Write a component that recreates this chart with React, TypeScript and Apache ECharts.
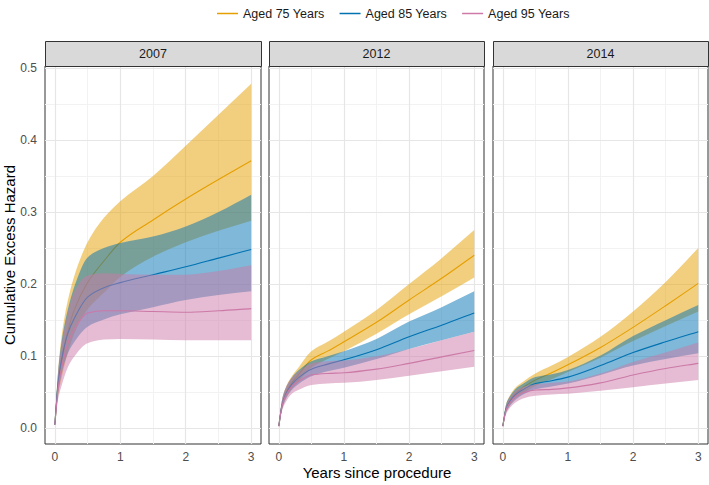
import React, { useEffect, useRef } from "react";
import * as echarts from "echarts";

// ---------- data ----------
const years = [0, 0.05, 0.1, 0.2, 0.3, 0.5, 0.75, 1, 1.5, 2, 2.5, 3];

const ageLabels = ["Aged 75 Years", "Aged 85 Years", "Aged 95 Years"];
const ageColors = ["#E69F00", "#0072B2", "#CC79A7"];
const panelTitles = ["2007", "2012", "2014"];

// 2007
const mean75_2007 = [0.005, 0.06, 0.09, 0.135, 0.165, 0.202, 0.232, 0.258, 0.289, 0.318, 0.345, 0.371];
const lower75_2007 = [0.004, 0.045, 0.068, 0.105, 0.132, 0.165, 0.188, 0.21, 0.238, 0.258, 0.274, 0.288];
const upper75_2007 = [0.006, 0.08, 0.125, 0.178, 0.212, 0.258, 0.292, 0.315, 0.35, 0.392, 0.435, 0.478];
const mean85_2007 = [0.005, 0.062, 0.094, 0.132, 0.153, 0.182, 0.195, 0.202, 0.213, 0.224, 0.236, 0.248];
const lower85_2007 = [0.004, 0.048, 0.074, 0.104, 0.12, 0.141, 0.151, 0.158, 0.168, 0.178, 0.185, 0.19];
const upper85_2007 = [0.006, 0.078, 0.118, 0.165, 0.197, 0.237, 0.25, 0.257, 0.266, 0.28, 0.3, 0.324];
const mean95_2007 = [0.005, 0.055, 0.082, 0.118, 0.138, 0.16, 0.163, 0.163, 0.162, 0.161, 0.163, 0.166];
const lower95_2007 = [0.004, 0.04, 0.058, 0.085, 0.1, 0.118, 0.123, 0.124, 0.123, 0.122, 0.122, 0.122];
const upper95_2007 = [0.006, 0.075, 0.113, 0.16, 0.19, 0.212, 0.215, 0.214, 0.213, 0.213, 0.218, 0.226];

// 2012
const mean75_2012 = [0.003, 0.032, 0.047, 0.063, 0.074, 0.095, 0.107, 0.12, 0.147, 0.178, 0.208, 0.24];
const lower75_2012 = [0.002, 0.026, 0.04, 0.055, 0.065, 0.084, 0.096, 0.107, 0.131, 0.158, 0.183, 0.209];
const upper75_2012 = [0.004, 0.039, 0.055, 0.072, 0.084, 0.107, 0.12, 0.134, 0.164, 0.2, 0.236, 0.275];
const mean85_2012 = [0.003, 0.032, 0.046, 0.061, 0.07, 0.082, 0.089, 0.095, 0.109, 0.127, 0.143, 0.16];
const lower85_2012 = [0.002, 0.026, 0.039, 0.053, 0.061, 0.072, 0.079, 0.084, 0.096, 0.11, 0.122, 0.134];
const upper85_2012 = [0.004, 0.039, 0.054, 0.07, 0.08, 0.093, 0.1, 0.107, 0.124, 0.148, 0.168, 0.19];
const mean95_2012 = [0.003, 0.031, 0.044, 0.058, 0.065, 0.074, 0.076, 0.077, 0.082, 0.09, 0.099, 0.108];
const lower95_2012 = [0.002, 0.024, 0.035, 0.048, 0.053, 0.06, 0.062, 0.063, 0.067, 0.073, 0.079, 0.0855];
const upper95_2012 = [0.004, 0.04, 0.055, 0.07, 0.078, 0.09, 0.093, 0.094, 0.1, 0.11, 0.122, 0.134];

// 2014
const mean75_2014 = [0.003, 0.027, 0.037, 0.049, 0.056, 0.067, 0.077, 0.088, 0.112, 0.14, 0.17, 0.201];
const lower75_2014 = [0.002, 0.022, 0.031, 0.042, 0.048, 0.059, 0.068, 0.078, 0.098, 0.121, 0.142, 0.162];
const upper75_2014 = [0.004, 0.033, 0.044, 0.057, 0.064, 0.076, 0.087, 0.099, 0.127, 0.162, 0.203, 0.25];
const mean85_2014 = [0.003, 0.027, 0.036, 0.047, 0.053, 0.062, 0.066, 0.071, 0.087, 0.105, 0.12, 0.134];
const lower85_2014 = [0.002, 0.022, 0.03, 0.04, 0.046, 0.054, 0.058, 0.062, 0.074, 0.087, 0.096, 0.104];
const upper85_2014 = [0.004, 0.033, 0.043, 0.055, 0.061, 0.071, 0.075, 0.081, 0.101, 0.128, 0.15, 0.171];
const mean95_2014 = [0.003, 0.025, 0.034, 0.044, 0.049, 0.053, 0.054, 0.056, 0.063, 0.074, 0.083, 0.09];
const lower95_2014 = [0.002, 0.019, 0.027, 0.036, 0.041, 0.045, 0.047, 0.048, 0.052, 0.057, 0.062, 0.067];
const upper95_2014 = [0.004, 0.031, 0.041, 0.052, 0.057, 0.061, 0.063, 0.065, 0.076, 0.092, 0.105, 0.119];

const xTicks = [0, 1, 2, 3];
const xMinorLines = [0.5, 1.5, 2.5];
const yTicks = [0, 0.1, 0.2, 0.3, 0.4, 0.5];
const yMinorLines = [0.05, 0.15, 0.25, 0.35, 0.45];

const panelData = [
  [
    [mean75_2007, lower75_2007, upper75_2007],
    [mean85_2007, lower85_2007, upper85_2007],
    [mean95_2007, lower95_2007, upper95_2007],
  ],
  [
    [mean75_2012, lower75_2012, upper75_2012],
    [mean85_2012, lower85_2012, upper85_2012],
    [mean95_2012, lower95_2012, upper95_2012],
  ],
  [
    [mean75_2014, lower75_2014, upper75_2014],
    [mean85_2014, lower85_2014, upper85_2014],
    [mean95_2014, lower95_2014, upper95_2014],
  ],
];

// ---------- layout ----------
const FONT = "'Liberation Sans', Arial, Helvetica, sans-serif";
const TICK_TEXT = "#4D4D4D";
const panelLefts = [45, 269, 493];
const panelWidths = [216, 215, 215];
const panelTop = 66;
const panelHeight = 378;
const stripHeight = 25;

type Pt = [number, number];

// monotone cubic tangents (pixel space), like d3.curveMonotoneX
function tangents(pts: Pt[]): number[] {
  const n = pts.length;
  const d: number[] = [];
  for (let i = 0; i < n - 1; i++) {
    const h = pts[i + 1][0] - pts[i][0];
    d.push(h === 0 ? 0 : (pts[i + 1][1] - pts[i][1]) / h);
  }
  const t: number[] = new Array(n).fill(0);
  t[0] = d[0];
  t[n - 1] = d[n - 2];
  for (let i = 1; i < n - 1; i++) {
    if (d[i - 1] * d[i] <= 0) t[i] = 0;
    else {
      const h0 = pts[i][0] - pts[i - 1][0];
      const h1 = pts[i + 1][0] - pts[i][0];
      const w1 = 2 * h1 + h0;
      const w2 = h1 + 2 * h0;
      t[i] = (w1 + w2) / (w1 / d[i - 1] + w2 / d[i]);
    }
  }
  return t;
}

function forwardPath(pts: Pt[], start: boolean): string {
  const t = tangents(pts);
  let s = start ? `M${pts[0][0]},${pts[0][1]}` : `L${pts[0][0]},${pts[0][1]}`;
  for (let i = 0; i < pts.length - 1; i++) {
    const h = (pts[i + 1][0] - pts[i][0]) / 3;
    s += `C${pts[i][0] + h},${pts[i][1] + t[i] * h} ${pts[i + 1][0] - h},${pts[i + 1][1] - t[i + 1] * h} ${pts[i + 1][0]},${pts[i + 1][1]}`;
  }
  return s;
}

function backwardPath(pts: Pt[]): string {
  const t = tangents(pts);
  const n = pts.length;
  let s = `L${pts[n - 1][0]},${pts[n - 1][1]}`;
  for (let i = n - 1; i > 0; i--) {
    const h = (pts[i][0] - pts[i - 1][0]) / 3;
    s += `C${pts[i][0] - h},${pts[i][1] - t[i] * h} ${pts[i - 1][0] + h},${pts[i - 1][1] + t[i - 1] * h} ${pts[i - 1][0]},${pts[i - 1][1]}`;
  }
  return s;
}

export default function App() {
  const ref = useRef<HTMLDivElement>(null);

  useEffect(() => {
    if (!ref.current) return;
    const chart = echarts.init(ref.current, null, { renderer: "svg" });

    const grids: any[] = [];
    const xAxes: any[] = [];
    const yAxes: any[] = [];
    const series: any[] = [];
    const graphics: any[] = [];

    panelTitles.forEach((title, p) => {
      grids.push({
        left: panelLefts[p],
        top: panelTop,
        width: panelWidths[p],
        height: panelHeight,
        show: true,
        backgroundColor: "#FFFFFF",
        borderColor: "#333333",
        borderWidth: 1,
        containLabel: false,
      });
      xAxes.push({
        type: "value",
        gridIndex: p,
        min: -0.15,
        max: 3.15,
        axisLine: { show: false, lineStyle: { color: "#333333" } },
        axisTick: {
          show: true,
          customValues: xTicks,
          length: 3.5,
          lineStyle: { color: "#333333", width: 1 },
        },
        axisLabel: {
          show: true,
          customValues: xTicks,
          margin: 7,
          color: TICK_TEXT,
          fontSize: 12,
          fontFamily: FONT,
          formatter: (v: number) => String(v),
        },
        splitLine: { show: false },
      });
      yAxes.push({
        type: "value",
        gridIndex: p,
        min: -0.0218,
        max: 0.5025,
        axisLine: { show: false, lineStyle: { color: "#333333" } },
        axisTick: {
          show: p === 0,
          customValues: yTicks,
          length: 3.5,
          lineStyle: { color: "#333333", width: 1 },
        },
        axisLabel: {
          show: p === 0,
          customValues: yTicks,
          margin: 8,
          color: TICK_TEXT,
          fontSize: 12,
          fontFamily: FONT,
          formatter: (v: number) => v.toFixed(1),
        },
        splitLine: { show: false },
      });

      // grid lines
      const gl: any[] = [];
      xMinorLines.forEach((v) => gl.push({ xAxis: v, lineStyle: { color: "#F2F2F2", width: 1 } }));
      yMinorLines.forEach((v) => gl.push({ yAxis: v, lineStyle: { color: "#F2F2F2", width: 1 } }));
      xTicks.forEach((v) => gl.push({ xAxis: v, lineStyle: { color: "#E6E6E6", width: 1.2 } }));
      yTicks.forEach((v) => gl.push({ yAxis: v, lineStyle: { color: "#E6E6E6", width: 1.2 } }));
      series.push({
        type: "line",
        name: `grid-${p}`,
        xAxisIndex: p,
        yAxisIndex: p,
        data: [],
        z: 1,
        silent: true,
        markLine: {
          z: 1,
          silent: true,
          animation: false,
          symbol: ["none", "none"],
          label: { show: false },
          emphasis: { disabled: true },
          lineStyle: { type: "solid" },
          data: gl,
        },
      });

      panelData[p].forEach((grp, g) => {
        const [mean, lower, upper] = grp;
        const color = ageColors[g];
        const baseZ = 2 + g * 2;
        const bandData = years.map((x, i) => [x, lower[i], upper[i]]);
        series.push({
          type: "custom",
          name: `band-${p}-${g}`,
          xAxisIndex: p,
          yAxisIndex: p,
          coordinateSystem: "cartesian2d",
          silent: true,
          z: baseZ,
          clip: false,
          encode: { x: 0, y: [1, 2] },
          data: bandData,
          renderItem: (params: any, api: any) => {
            if (params.dataIndex !== 0) return null;
            const up: Pt[] = bandData.map((d) => api.coord([d[0], d[2]]) as Pt);
            const lo: Pt[] = bandData.map((d) => api.coord([d[0], d[1]]) as Pt);
            const pathData = forwardPath(up, true) + backwardPath(lo) + "Z";
            return {
              type: "path",
              shape: { pathData },
              style: { fill: color, opacity: 0.5, stroke: "none" },
            };
          },
        });
        const lineData = years.map((x, i) => [x, mean[i]]);
        series.push({
          type: "custom",
          name: ageLabels[g],
          xAxisIndex: p,
          yAxisIndex: p,
          coordinateSystem: "cartesian2d",
          silent: true,
          z: baseZ + 1,
          clip: false,
          itemStyle: { color },
          encode: { x: 0, y: 1 },
          data: lineData,
          renderItem: (params: any, api: any) => {
            if (params.dataIndex !== 0) return null;
            const pts: Pt[] = lineData.map((d) => api.coord([d[0], d[1]]) as Pt);
            return {
              type: "path",
              shape: { pathData: forwardPath(pts, true) },
              style: { fill: "none", stroke: color, lineWidth: 1.1 },
            };
          },
        });
      });

      // strip
      graphics.push({
        type: "rect",
        shape: { x: panelLefts[p] + 0.5, y: panelTop - stripHeight + 0.5, width: panelWidths[p], height: stripHeight },
        style: { fill: "#D9D9D9", stroke: "#333333", lineWidth: 1 },
        z: 10,
      });
      graphics.push({
        type: "text",
        x: panelLefts[p] + panelWidths[p] / 2,
        y: panelTop - stripHeight / 2,
        style: {
          text: title,
          fill: "#1A1A1A",
          fontSize: 12.5,
          fontFamily: FONT,
          align: "center",
          verticalAlign: "middle",
        },
        z: 11,
      });
    });

    graphics.push({
      type: "text",
      x: 9,
      y: panelTop + panelHeight / 2,
      rotation: Math.PI / 2,
      style: {
        text: "Cumulative Excess Hazard",
        fill: "#000000",
        fontSize: 15,
        fontFamily: FONT,
        align: "center",
        verticalAlign: "middle",
      },
    });
    graphics.push({
      type: "text",
      x: 377,
      y: 472.5,
      style: {
        text: "Years since procedure",
        fill: "#000000",
        fontSize: 15,
        fontFamily: FONT,
        align: "center",
        verticalAlign: "middle",
      },
    });

    chart.setOption({
      animation: false,
      backgroundColor: "#FFFFFF",
      legend: {
        data: ageLabels,
        left: 212,
        top: 2,
        icon: "rect",
        itemWidth: 21,
        itemHeight: 1.5,
        itemGap: 15,
        selectedMode: false,
        textStyle: { color: "#1A1A1A", fontSize: 12.5, fontFamily: FONT, padding: [0, 0, 0, 0] },
      },
      grid: grids,
      xAxis: xAxes,
      yAxis: yAxes,
      series,
      graphic: graphics,
    });

    return () => chart.dispose();
  }, []);

  return (
    <div
      ref={ref}
      style={{ position: "fixed", left: 0, top: 0, width: 709, height: 485, background: "#fff" }}
    />
  );
}
